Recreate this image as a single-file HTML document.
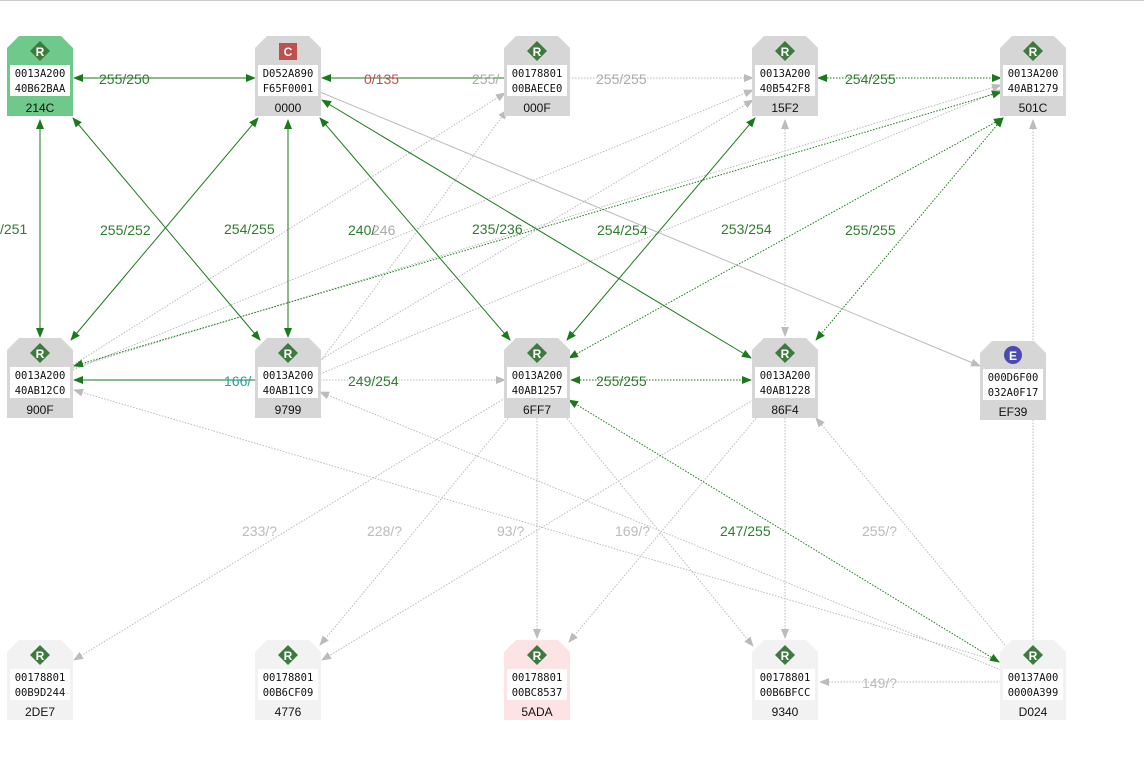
<!DOCTYPE html>
<html><head><meta charset="utf-8"><style>
body{margin:0;background:#fff;width:1144px;height:783px;overflow:hidden}
svg{display:block}
.m{font-family:"DejaVu Sans Mono","Liberation Mono",monospace;font-size:10.5px;fill:#111}
.l{font-family:"Liberation Sans",sans-serif;font-size:12px;fill:#111}
.e{font-family:"Liberation Sans",sans-serif;font-size:14px}
.g{stroke:#1a7a1a;stroke-width:1;fill:none}
.gd{stroke:#1a7a1a;stroke-width:1;fill:none;stroke-dasharray:1.5 1.5}
.s{stroke:#bbb;stroke-width:1;fill:none}
.sd{stroke:#bbb;stroke-width:1;fill:none;stroke-dasharray:1.5 1.5}
</style></head><body>
<svg width="1144" height="783" xmlns="http://www.w3.org/2000/svg">
<defs>
<marker id="ag" markerWidth="10" markerHeight="8" refX="9" refY="4" orient="auto-start-reverse" markerUnits="userSpaceOnUse"><path d="M0,0 L10,4 L0,8 Z" fill="#1a7a1a"/></marker>
<marker id="as" markerWidth="10" markerHeight="8" refX="9" refY="4" orient="auto-start-reverse" markerUnits="userSpaceOnUse"><path d="M0,0 L10,4 L0,8 Z" fill="#bbb"/></marker>
</defs>
<line x1="0" y1="0.5" x2="1144" y2="0.5" stroke="#ccc"/>
<!-- gray edges -->
<g>
<line class="s" x1="320" y1="92" x2="980" y2="366" marker-end="url(#as)"/>
<line class="sd" x1="73" y1="365" x2="505" y2="93" marker-end="url(#as)"/>
<line class="sd" x1="73" y1="370" x2="753" y2="90" marker-end="url(#as)"/>
<line class="sd" x1="73" y1="368" x2="1001" y2="85" marker-end="url(#as)"/>
<line class="sd" x1="320" y1="362" x2="507" y2="110" marker-end="url(#as)"/>
<line class="sd" x1="320" y1="360" x2="753" y2="100" marker-end="url(#as)"/>
<line class="sd" x1="320" y1="374" x2="1001" y2="90" marker-end="url(#as)"/>
<line class="sd" x1="569" y1="78" x2="753" y2="78" marker-end="url(#as)"/>
<line class="sd" x1="785" y1="120" x2="785" y2="336" marker-start="url(#as)" marker-end="url(#as)"/>
<line class="sd" x1="1033" y1="640" x2="1033" y2="120" marker-end="url(#as)"/>
<line class="sd" x1="320" y1="380" x2="505" y2="380" marker-end="url(#as)"/>
<line class="sd" x1="505" y1="398" x2="74" y2="660" marker-end="url(#as)"/>
<line class="sd" x1="510" y1="416" x2="320" y2="645" marker-end="url(#as)"/>
<line class="sd" x1="537" y1="418" x2="537" y2="638" marker-end="url(#as)"/>
<line class="sd" x1="565" y1="416" x2="753" y2="646" marker-end="url(#as)"/>
<line class="sd" x1="753" y1="400" x2="322" y2="660" marker-end="url(#as)"/>
<line class="sd" x1="758" y1="416" x2="569" y2="642" marker-end="url(#as)"/>
<line class="sd" x1="785" y1="418" x2="785" y2="638" marker-end="url(#as)"/>
<line class="sd" x1="1005" y1="645" x2="816" y2="418" marker-end="url(#as)"/>
<line class="sd" x1="1001" y1="662" x2="74" y2="390" marker-end="url(#as)"/>
<line class="sd" x1="1001" y1="670" x2="320" y2="392" marker-end="url(#as)"/>
<line class="sd" x1="1001" y1="682" x2="820" y2="682" marker-end="url(#as)"/>
</g>
<!-- green edges -->
<g>
<line class="g" x1="74" y1="78" x2="255" y2="78" marker-start="url(#ag)" marker-end="url(#ag)"/>
<line class="g" x1="505" y1="78" x2="322" y2="78" marker-end="url(#ag)"/>
<line class="gd" x1="818" y1="78" x2="1001" y2="78" marker-start="url(#ag)" marker-end="url(#ag)"/>
<line class="g" x1="40" y1="120" x2="40" y2="337" marker-start="url(#ag)" marker-end="url(#ag)"/>
<line class="g" x1="288" y1="120" x2="288" y2="337" marker-start="url(#ag)" marker-end="url(#ag)"/>
<line class="g" x1="73" y1="118" x2="260" y2="340" marker-start="url(#ag)" marker-end="url(#ag)"/>
<line class="g" x1="258" y1="118" x2="71" y2="340" marker-start="url(#ag)" marker-end="url(#ag)"/>
<line class="g" x1="320" y1="118" x2="510" y2="340" marker-start="url(#ag)" marker-end="url(#ag)"/>
<line class="g" x1="322" y1="100" x2="751" y2="358" marker-start="url(#ag)" marker-end="url(#ag)"/>
<line class="g" x1="755" y1="118" x2="567" y2="340" marker-start="url(#ag)" marker-end="url(#ag)"/>
<line class="gd" x1="1001" y1="92" x2="74" y2="366" marker-start="url(#ag)" marker-end="url(#ag)"/>
<line class="gd" x1="1003" y1="118" x2="569" y2="358" marker-start="url(#ag)" marker-end="url(#ag)"/>
<line class="gd" x1="1003" y1="118" x2="816" y2="340" marker-start="url(#ag)" marker-end="url(#ag)"/>
<line class="g" x1="255" y1="380" x2="74" y2="380" marker-end="url(#ag)"/>
<line class="gd" x1="571" y1="380" x2="751" y2="380" marker-start="url(#ag)" marker-end="url(#ag)"/>
<line class="gd" x1="999" y1="662" x2="569" y2="400" marker-start="url(#ag)" marker-end="url(#ag)"/>
</g>
<!-- edge labels -->
<g class="e">
<text x="99" y="84" fill="#2e7d2e">255/250</text>
<text x="364" y="84" fill="#c0504d">0/135</text>
<text x="472" y="84" fill="#aaa">255/</text>
<text x="596" y="84" fill="#aaa">255/255</text>
<text x="845" y="84" fill="#2e7d2e">254/255</text>
<text x="0" y="234" fill="#2e7d2e">/251</text>
<text x="100" y="235" fill="#2e7d2e">255/252</text>
<text x="224" y="234" fill="#2e7d2e">254/255</text>
<text x="348" y="235" fill="#2e7d2e">240/</text>
<text x="372" y="235" fill="#aaa">246</text>
<text x="472" y="234" fill="#2e7d2e">235/236</text>
<text x="597" y="235" fill="#2e7d2e">254/254</text>
<text x="721" y="234" fill="#2e7d2e">253/254</text>
<text x="845" y="235" fill="#2e7d2e">255/255</text>
<text x="224" y="386" fill="#2aa0a0">166/</text>
<text x="348" y="386" fill="#2e7d2e">249/254</text>
<text x="596" y="386" fill="#2e7d2e">255/255</text>
<text x="242" y="536" fill="#bbb">233/?</text>
<text x="367" y="536" fill="#bbb">228/?</text>
<text x="497" y="536" fill="#bbb">93/?</text>
<text x="615" y="536" fill="#bbb">169/?</text>
<text x="720" y="536" fill="#2e7d2e">247/255</text>
<text x="862" y="536" fill="#bbb">255/?</text>
<text x="862" y="688" fill="#bbb">149/?</text>
</g>
<!-- nodes -->
<g id="nodes">
<!-- template: x0,y0 -->
<path d="M7,48 L19,36 L61,36 L73,48 L73,116 L7,116 Z" fill="#6fc98a"/>
<path d="M255,48 L267,36 L309,36 L321,48 L321,116 L255,116 Z" fill="#d6d6d6"/>
<path d="M504,48 L516,36 L558,36 L570,48 L570,116 L504,116 Z" fill="#d6d6d6"/>
<path d="M752,48 L764,36 L806,36 L818,48 L818,116 L752,116 Z" fill="#d6d6d6"/>
<path d="M1000,48 L1012,36 L1054,36 L1066,48 L1066,116 L1000,116 Z" fill="#d6d6d6"/>
<path d="M7,350 L19,338 L61,338 L73,350 L73,418 L7,418 Z" fill="#d6d6d6"/>
<path d="M255,350 L267,338 L309,338 L321,350 L321,418 L255,418 Z" fill="#d6d6d6"/>
<path d="M504,350 L516,338 L558,338 L570,350 L570,418 L504,418 Z" fill="#d6d6d6"/>
<path d="M752,350 L764,338 L806,338 L818,350 L818,418 L752,418 Z" fill="#d6d6d6"/>
<path d="M980,353 L992,341 L1034,341 L1046,353 L1046,420 L980,420 Z" fill="#d6d6d6"/>
<path d="M7,652 L19,640 L61,640 L73,652 L73,720 L7,720 Z" fill="#f2f2f2"/>
<path d="M255,652 L267,640 L309,640 L321,652 L321,720 L255,720 Z" fill="#f2f2f2"/>
<path d="M504,652 L516,640 L558,640 L570,652 L570,720 L504,720 Z" fill="#fde3e3"/>
<path d="M752,652 L764,640 L806,640 L818,652 L818,720 L752,720 Z" fill="#f2f2f2"/>
<path d="M1000,652 L1012,640 L1054,640 L1066,652 L1066,720 L1000,720 Z" fill="#f2f2f2"/>
<!-- white text boxes -->
<g fill="#fff">
<rect x="10" y="65" width="60" height="31"/><rect x="258" y="65" width="60" height="31"/><rect x="507" y="65" width="60" height="31"/><rect x="755" y="65" width="60" height="31"/><rect x="1003" y="65" width="60" height="31"/>
<rect x="10" y="367" width="60" height="31"/><rect x="258" y="367" width="60" height="31"/><rect x="507" y="367" width="60" height="31"/><rect x="755" y="367" width="60" height="31"/><rect x="983" y="369" width="60" height="31"/>
<rect x="10" y="669" width="60" height="31"/><rect x="258" y="669" width="60" height="31"/><rect x="507" y="669" width="60" height="31"/><rect x="755" y="669" width="60" height="31"/><rect x="1003" y="669" width="60" height="31"/>
</g>
<!-- icons -->
<g fill="#3d7a3d">
<path d="M40,41 L50,51 L40,61 L30,51 Z"/><path d="M537,41 L547,51 L537,61 L527,51 Z"/><path d="M785,41 L795,51 L785,61 L775,51 Z"/><path d="M1033,41 L1043,51 L1033,61 L1023,51 Z"/>
<path d="M40,343 L50,353 L40,363 L30,353 Z"/><path d="M288,343 L298,353 L288,363 L278,353 Z"/><path d="M537,343 L547,353 L537,363 L527,353 Z"/><path d="M785,343 L795,353 L785,363 L775,353 Z"/>
<path d="M40,645 L50,655 L40,665 L30,655 Z"/><path d="M288,645 L298,655 L288,665 L278,655 Z"/><path d="M537,645 L547,655 L537,665 L527,655 Z"/><path d="M785,645 L795,655 L785,665 L775,655 Z"/><path d="M1033,645 L1043,655 L1033,665 L1023,655 Z"/>
</g>
<rect x="279" y="43" width="18" height="17" fill="#c0504d"/>
<circle cx="1013" cy="355" r="9" fill="#4a4ab0"/>
<g font-family="Liberation Sans,sans-serif" font-size="12" font-weight="bold" fill="#fff" text-anchor="middle">
<text x="40" y="56">R</text><text x="288" y="56">C</text><text x="537" y="56">R</text><text x="785" y="56">R</text><text x="1033" y="56">R</text>
<text x="40" y="358">R</text><text x="288" y="358">R</text><text x="537" y="358">R</text><text x="785" y="358">R</text><text x="1013" y="360">E</text>
<text x="40" y="660">R</text><text x="288" y="660">R</text><text x="537" y="660">R</text><text x="785" y="660">R</text><text x="1033" y="660">R</text>
</g>
<g class="m" text-anchor="middle">
<text x="40" y="77">0013A200</text><text x="40" y="92">40B62BAA</text>
<text x="288" y="77">D052A890</text><text x="288" y="92">F65F0001</text>
<text x="537" y="77">00178801</text><text x="537" y="92">00BAECE0</text>
<text x="785" y="77">0013A200</text><text x="785" y="92">40B542F8</text>
<text x="1033" y="77">0013A200</text><text x="1033" y="92">40AB1279</text>
<text x="40" y="379">0013A200</text><text x="40" y="394">40AB12C0</text>
<text x="288" y="379">0013A200</text><text x="288" y="394">40AB11C9</text>
<text x="537" y="379">0013A200</text><text x="537" y="394">40AB1257</text>
<text x="785" y="379">0013A200</text><text x="785" y="394">40AB1228</text>
<text x="1013" y="381">000D6F00</text><text x="1013" y="396">032A0F17</text>
<text x="40" y="681">00178801</text><text x="40" y="696">00B9D244</text>
<text x="288" y="681">00178801</text><text x="288" y="696">00B6CF09</text>
<text x="537" y="681">00178801</text><text x="537" y="696">00BC8537</text>
<text x="785" y="681">00178801</text><text x="785" y="696">00B6BFCC</text>
<text x="1033" y="681">00137A00</text><text x="1033" y="696">0000A399</text>
</g>
<g class="l" text-anchor="middle">
<text x="40" y="112">214C</text><text x="288" y="112">0000</text><text x="537" y="112">000F</text><text x="785" y="112">15F2</text><text x="1033" y="112">501C</text>
<text x="40" y="414">900F</text><text x="288" y="414">9799</text><text x="537" y="414">6FF7</text><text x="785" y="414">86F4</text><text x="1013" y="416">EF39</text>
<text x="40" y="716">2DE7</text><text x="288" y="716">4776</text><text x="537" y="716">5ADA</text><text x="785" y="716">9340</text><text x="1033" y="716">D024</text>
</g>
</g>
</svg>
</body></html>
